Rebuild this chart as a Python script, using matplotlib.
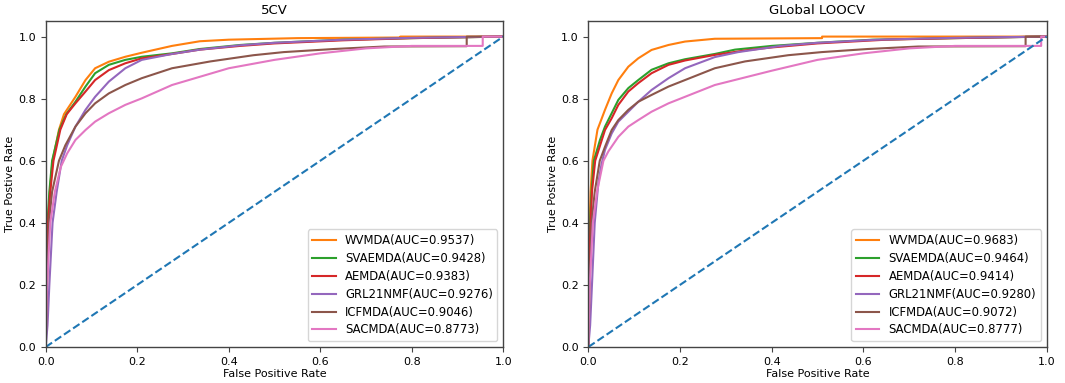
import matplotlib
matplotlib.use("Agg")
import matplotlib.pyplot as plt

methods = ["WVMDA", "SVAEMDA", "AEMDA", "GRL21NMF", "ICFMDA", "SACMDA"]
colors = ["C1", "C2", "C3", "C4", "C5", "C6"]
titles = ["5CV", "GLobal LOOCV"]
auc_5cv = [0.9537, 0.9428, 0.9383, 0.9276, 0.9046, 0.8773]
auc_loocv = [0.9683, 0.9464, 0.9414, 0.9280, 0.9072, 0.8777]

# ---- 5CV curves (FPR, TPR) ----
fpr_5cv_wvmda = [0, 0.002, 0.005, 0.009, 0.015, 0.029, 0.04, 0.065, 0.087, 0.108, 0.138, 0.174, 0.21, 0.276, 0.337, 0.40, 0.55, 0.775, 0.775, 1.0]
tpr_5cv_wvmda = [0, 0.25, 0.40, 0.50, 0.60, 0.70, 0.75, 0.806, 0.86, 0.898, 0.919, 0.935, 0.948, 0.970, 0.985, 0.99, 0.995, 0.997, 1.0, 1.0]
fpr_5cv_svaemda = [0, 0.002, 0.004, 0.008, 0.014, 0.03, 0.045, 0.065, 0.087, 0.108, 0.138, 0.174, 0.21, 0.276, 0.337, 0.425, 0.5, 0.65, 0.8, 1.0]
tpr_5cv_svaemda = [0, 0.25, 0.40, 0.50, 0.60, 0.70, 0.75, 0.79, 0.839, 0.882, 0.909, 0.925, 0.935, 0.946, 0.96, 0.973, 0.98, 0.99, 0.995, 1.0]
fpr_5cv_aemda = [0, 0.002, 0.005, 0.01, 0.017, 0.032, 0.046, 0.065, 0.087, 0.108, 0.138, 0.174, 0.21, 0.276, 0.337, 0.425, 0.5, 0.65, 0.8, 1.0]
tpr_5cv_aemda = [0, 0.25, 0.40, 0.50, 0.60, 0.70, 0.75, 0.785, 0.823, 0.86, 0.892, 0.914, 0.93, 0.944, 0.958, 0.97, 0.978, 0.988, 0.995, 1.0]
fpr_5cv_grl = [0, 0.004, 0.008, 0.015, 0.024, 0.035, 0.047, 0.065, 0.087, 0.108, 0.138, 0.174, 0.21, 0.276, 0.337, 0.425, 0.5, 0.65, 0.8, 1.0]
tpr_5cv_grl = [0, 0.07, 0.20, 0.40, 0.50, 0.60, 0.65, 0.71, 0.764, 0.806, 0.855, 0.898, 0.925, 0.944, 0.958, 0.972, 0.98, 0.99, 0.996, 1.0]
fpr_5cv_icfmda = [0, 0.003, 0.007, 0.014, 0.029, 0.043, 0.065, 0.087, 0.108, 0.138, 0.174, 0.21, 0.276, 0.36, 0.454, 0.52, 0.63, 0.74, 0.92, 0.92, 1.0]
tpr_5cv_icfmda = [0, 0.20, 0.40, 0.50, 0.60, 0.65, 0.71, 0.753, 0.785, 0.817, 0.844, 0.866, 0.898, 0.92, 0.94, 0.95, 0.96, 0.968, 0.969, 1.0, 1.0]
fpr_5cv_sacmda = [0, 0.003, 0.01, 0.02, 0.033, 0.047, 0.065, 0.087, 0.108, 0.138, 0.174, 0.21, 0.276, 0.4, 0.5, 0.6, 0.7, 0.8, 0.955, 0.955, 1.0]
tpr_5cv_sacmda = [0, 0.20, 0.40, 0.50, 0.58, 0.624, 0.667, 0.699, 0.726, 0.753, 0.78, 0.801, 0.844, 0.898, 0.925, 0.946, 0.962, 0.97, 0.97, 1.0, 1.0]

# ---- Global LOOCV curves (FPR, TPR) ----
fpr_loo_wvmda = [0, 0.001, 0.003, 0.005, 0.009, 0.02, 0.0364, 0.051, 0.0655, 0.0873, 0.109, 0.138, 0.175, 0.211, 0.276, 0.51, 0.51, 1.0]
tpr_loo_wvmda = [0, 0.25, 0.40, 0.50, 0.60, 0.70, 0.764, 0.817, 0.86, 0.903, 0.93, 0.957, 0.973, 0.984, 0.993, 0.995, 1.0, 1.0]
fpr_loo_svaemda = [0, 0.002, 0.004, 0.007, 0.012, 0.0255, 0.0364, 0.051, 0.0655, 0.0873, 0.109, 0.138, 0.175, 0.211, 0.276, 0.32, 0.4, 0.5, 0.62, 0.8, 1.0]
tpr_loo_svaemda = [0, 0.25, 0.40, 0.50, 0.60, 0.667, 0.71, 0.753, 0.796, 0.834, 0.86, 0.893, 0.914, 0.927, 0.944, 0.958, 0.97, 0.98, 0.99, 0.995, 1.0]
fpr_loo_aemda = [0, 0.002, 0.005, 0.008, 0.015, 0.0364, 0.051, 0.0655, 0.0873, 0.109, 0.138, 0.175, 0.211, 0.276, 0.35, 0.4, 0.5, 0.65, 0.8, 1.0]
tpr_loo_aemda = [0, 0.25, 0.40, 0.50, 0.60, 0.699, 0.737, 0.78, 0.823, 0.85, 0.882, 0.909, 0.923, 0.941, 0.957, 0.965, 0.978, 0.99, 0.995, 1.0]
fpr_loo_grl = [0, 0.004, 0.008, 0.014, 0.022, 0.029, 0.0364, 0.051, 0.0655, 0.0873, 0.109, 0.138, 0.175, 0.211, 0.276, 0.327, 0.42, 0.5, 0.63, 0.8, 1.0]
tpr_loo_grl = [0, 0.07, 0.20, 0.40, 0.53, 0.59, 0.635, 0.688, 0.726, 0.758, 0.79, 0.828, 0.866, 0.898, 0.934, 0.95, 0.97, 0.98, 0.99, 0.996, 1.0]
fpr_loo_icfmda = [0, 0.003, 0.007, 0.014, 0.025, 0.0364, 0.051, 0.0655, 0.0873, 0.109, 0.138, 0.175, 0.211, 0.276, 0.342, 0.436, 0.509, 0.61, 0.72, 0.954, 0.954, 1.0]
tpr_loo_icfmda = [0, 0.20, 0.40, 0.50, 0.60, 0.645, 0.699, 0.731, 0.764, 0.79, 0.812, 0.839, 0.86, 0.898, 0.92, 0.94, 0.95, 0.96, 0.968, 0.969, 1.0, 1.0]
fpr_loo_sacmda = [0, 0.003, 0.01, 0.019, 0.033, 0.0437, 0.0655, 0.0873, 0.109, 0.138, 0.175, 0.211, 0.276, 0.4, 0.5, 0.6, 0.7, 0.8, 0.988, 0.988, 1.0]
tpr_loo_sacmda = [0, 0.20, 0.40, 0.50, 0.60, 0.63, 0.677, 0.71, 0.731, 0.758, 0.785, 0.806, 0.844, 0.89, 0.925, 0.946, 0.962, 0.97, 0.97, 1.0, 1.0]

curves_5cv = [
    (fpr_5cv_wvmda, tpr_5cv_wvmda), (fpr_5cv_svaemda, tpr_5cv_svaemda),
    (fpr_5cv_aemda, tpr_5cv_aemda), (fpr_5cv_grl, tpr_5cv_grl),
    (fpr_5cv_icfmda, tpr_5cv_icfmda), (fpr_5cv_sacmda, tpr_5cv_sacmda),
]
curves_loo = [
    (fpr_loo_wvmda, tpr_loo_wvmda), (fpr_loo_svaemda, tpr_loo_svaemda),
    (fpr_loo_aemda, tpr_loo_aemda), (fpr_loo_grl, tpr_loo_grl),
    (fpr_loo_icfmda, tpr_loo_icfmda), (fpr_loo_sacmda, tpr_loo_sacmda),
]

fig = plt.figure(figsize=(10.65, 3.83), dpi=100)
ax1 = fig.add_axes([0.0429, 0.094, 0.4297, 0.851])
ax2 = fig.add_axes([0.5524, 0.094, 0.4304, 0.851])

FS = 8
for ax, title, curves, aucs in [(ax1, titles[0], curves_5cv, auc_5cv),
                                (ax2, titles[1], curves_loo, auc_loocv)]:
    for name, col, (f, t), a in zip(methods, colors, curves, aucs):
        ax.plot(f, t, color=col, lw=1.5, label=f"{name}(AUC={a:.4f})")
    ax.plot([0, 1], [0, 1], color="C0", lw=1.5, ls="--")
    ax.set_xlim(0, 1.0)
    ax.set_ylim(0, 1.05)
    ax.set_xticks([0, 0.2, 0.4, 0.6, 0.8, 1.0])
    ax.set_yticks([0, 0.2, 0.4, 0.6, 0.8, 1.0])
    ax.tick_params(labelsize=FS, color="#444444")
    for sp in ax.spines.values():
        sp.set_color("#444444")
        sp.set_linewidth(1.0)
    ax.set_xlabel("False Positive Rate", fontsize=FS, labelpad=2)
    ax.set_ylabel("True Postive Rate", fontsize=FS, labelpad=2)
    ax.set_title(title, fontsize=9.5, pad=5)
    ax.legend(loc="lower right", fontsize=8.4, labelspacing=0.42)

fig.savefig("out.png", dpi=100)
